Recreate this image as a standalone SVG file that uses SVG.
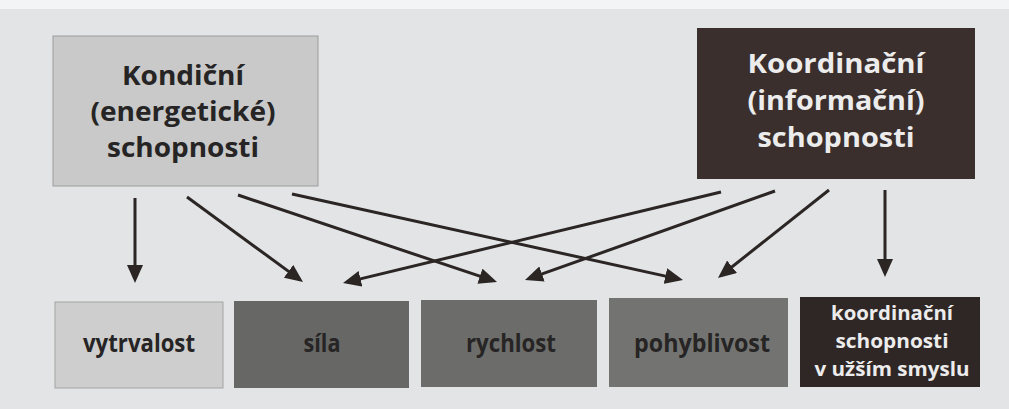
<svg xmlns="http://www.w3.org/2000/svg" width="1009" height="409" viewBox="0 0 1009 409">
  <defs>
    <marker id="head" viewBox="0 0 18 16" refX="14" refY="8" markerWidth="18" markerHeight="16" markerUnits="userSpaceOnUse" orient="auto">
      <path d="M0,0 L18,8 L0,16 z" fill="#2b2524"/>
    </marker>
  </defs>
  <style>
    .big { font-family: "Open Sans", "Noto Sans", "DejaVu Sans", sans-serif; font-weight: bold; font-size: 26.5px; text-anchor: middle; }
    .mid { font-family: "Open Sans", "Noto Sans", "DejaVu Sans", sans-serif; font-weight: bold; font-size: 24.5px; text-anchor: middle; }
    .small { font-family: "Open Sans", "Noto Sans", "DejaVu Sans", sans-serif; font-weight: bold; font-size: 20px; text-anchor: middle; }
    .dark { fill: #262424; }
    .light { fill: #ececec; }
    .edge { fill: none; stroke: #2b2524; stroke-width: 3; marker-end: url(#head); }
  </style>

  <!-- page -->
  <rect x="0" y="0" width="1009" height="409" fill="#e2e4e6"/>
  <rect x="0" y="0" width="1009" height="9" fill="#f3f4f5"/>

  <!-- top categories -->
  <g id="kondicni">
    <rect x="53" y="36" width="265" height="150" fill="#c8c9c8" stroke="#9c9d9c" stroke-width="1"/>
    <text class="big dark" x="183" y="85" textLength="122" lengthAdjust="spacingAndGlyphs">Kondiční</text>
    <text class="big dark" x="183" y="121" textLength="185" lengthAdjust="spacingAndGlyphs">(energetické)</text>
    <text class="big dark" x="183" y="157" textLength="152" lengthAdjust="spacingAndGlyphs">schopnosti</text>
  </g>
  <g id="koordinacni">
    <rect x="697" y="28" width="278" height="151" fill="#3a2f2c"/>
    <text class="big light" x="836" y="73" textLength="177" lengthAdjust="spacingAndGlyphs">Koordinační</text>
    <text class="big light" x="836" y="110" textLength="177" lengthAdjust="spacingAndGlyphs">(informační)</text>
    <text class="big light" x="836" y="147" textLength="157" lengthAdjust="spacingAndGlyphs">schopnosti</text>
  </g>

  <!-- bottom abilities -->
  <g id="vytrvalost">
    <rect x="55" y="302" width="168" height="86" fill="#cdcecd" stroke="#a4a5a4" stroke-width="1"/>
    <text class="mid dark" x="139" y="352" textLength="112" lengthAdjust="spacingAndGlyphs">vytrvalost</text>
  </g>
  <g id="sila">
    <rect x="234" y="301" width="175" height="87" fill="#676865"/>
    <text class="mid dark" x="322" y="352" textLength="37" lengthAdjust="spacingAndGlyphs">síla</text>
  </g>
  <g id="rychlost">
    <rect x="421" y="300" width="176" height="87" fill="#6c6d6a"/>
    <text class="mid dark" x="511" y="352" textLength="90" lengthAdjust="spacingAndGlyphs">rychlost</text>
  </g>
  <g id="pohyblivost">
    <rect x="609" y="298" width="179" height="89" fill="#737471"/>
    <text class="mid dark" x="702" y="352" textLength="136" lengthAdjust="spacingAndGlyphs">pohyblivost</text>
  </g>
  <g id="koordinacni-uzsi">
    <rect x="800" y="297" width="180" height="90" fill="#2f2726"/>
    <text class="small light" x="892" y="320" textLength="122" lengthAdjust="spacingAndGlyphs">koordinační</text>
    <text class="small light" x="892" y="348" textLength="113" lengthAdjust="spacingAndGlyphs">schopnosti</text>
    <text class="small light" x="892" y="376" textLength="155" lengthAdjust="spacingAndGlyphs">v užším smyslu</text>
  </g>

  <!-- connectors -->
  <g id="connectors">
    <line class="edge" x1="135" y1="198" x2="135" y2="279"/>
    <line class="edge" x1="187" y1="197" x2="299.8" y2="279.6"/>
    <line class="edge" x1="238" y1="195" x2="493.2" y2="280.7"/>
    <line class="edge" x1="292" y1="194" x2="679.1" y2="279.1"/>
    <line class="edge" x1="721" y1="192" x2="346.9" y2="282.1"/>
    <line class="edge" x1="775" y1="191" x2="528.8" y2="278.7"/>
    <line class="edge" x1="829" y1="190" x2="721.1" y2="275.5"/>
    <line class="edge" x1="885" y1="190" x2="885" y2="273"/>
  </g>
</svg>
